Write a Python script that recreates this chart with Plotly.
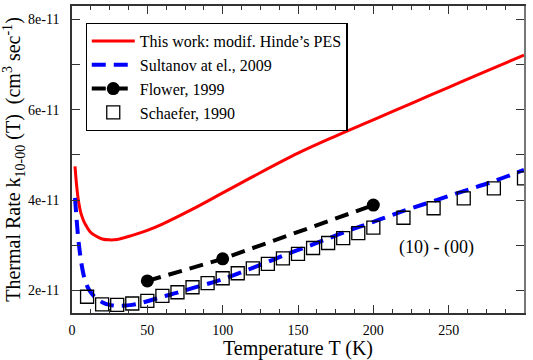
import plotly.graph_objects as go

SCALE = 1e-11

# This work: modif. Hinde's PES (units of 1e-11 cm^3 s^-1)
red_T = [2, 3, 4, 5, 6, 8, 10, 12, 15, 20, 25, 30, 40, 50, 60, 80, 100, 120, 150, 175, 200, 225, 250, 275, 300]
red_k = [4.75, 4.35, 4.05, 3.85, 3.7, 3.52, 3.4, 3.3, 3.22, 3.14, 3.12, 3.13, 3.22, 3.33, 3.47, 3.8, 4.16, 4.52, 5.04, 5.42, 5.78, 6.14, 6.5, 6.86, 7.21]

# Sultanov at el., 2009
blue_T = [2, 3, 4, 5, 6, 8, 10, 12, 15, 20, 25, 30, 40, 50, 60, 70, 80, 100, 120, 140, 160, 180, 200, 220, 240, 260, 280, 300]
blue_k = [4.05, 3.6, 3.2, 2.9, 2.65, 2.3, 2.1, 1.98, 1.86, 1.74, 1.68, 1.66, 1.68, 1.76, 1.86, 1.95, 2.05, 2.25, 2.5, 2.77, 3.02, 3.28, 3.52, 3.76, 3.98, 4.2, 4.42, 4.67]

# Flower, 1999
flower_T = [50, 100, 200]
flower_k = [2.21, 2.7, 3.89]

# Schaefer, 1990
sch_T = [10, 20, 30, 40, 50, 60, 70, 80, 90, 100, 110, 120, 130, 140, 150, 160, 170, 180, 190, 200, 220, 240, 260, 280, 300]
sch_k = [1.86, 1.69, 1.68, 1.71, 1.77, 1.88, 1.96, 2.07, 2.16, 2.27, 2.38, 2.49, 2.59, 2.71, 2.81, 2.94, 3.05, 3.16, 3.27, 3.39, 3.61, 3.82, 4.04, 4.26, 4.48]

y_tickvals = [2, 4, 6, 8]
y_ticktext = ["2e-11", "4e-11", "6e-11", "8e-11"]
x_tickvals = [0, 50, 100, 150, 200, 250, 300]

FONT = "Liberation Serif"
AX = "#333333"
X_RANGE = [0, 300]
Y_RANGE = [1.5e-11, 8.3e-11]

def sc(v):
    return [x * SCALE for x in v]

fig = go.Figure()
fig.add_trace(go.Scatter(x=red_T, y=sc(red_k), mode="lines", name="This work: modif. Hinde\u2019s PES",
                         line=dict(color="#ff0000", width=3, shape="spline")))
fig.add_trace(go.Scatter(x=blue_T, y=sc(blue_k), mode="lines", name="Sultanov at el., 2009",
                         line=dict(color="#0000ff", width=4, dash="14px,8px", shape="spline")))
fig.add_trace(go.Scatter(x=flower_T, y=sc(flower_k), mode="lines+markers", name="Flower, 1999",
                         line=dict(color="black", width=4, dash="14px,8px"),
                         marker=dict(symbol="circle", size=13, color="black")))
fig.add_trace(go.Scatter(x=sch_T, y=sc(sch_k), mode="markers", name="Schaefer, 1990",
                         marker=dict(symbol="square-open", size=13, color="black", line=dict(width=1.3))))
# invisible trace to activate mirror axes
fig.add_trace(go.Scatter(x=[None], y=[None], xaxis="x2", yaxis="y2", showlegend=False, hoverinfo="skip"))

fig.add_annotation(x=242, y=2.96 * SCALE, text="(10) - (00)", showarrow=False,
                   font=dict(family=FONT, size=18, color="black"), xanchor="center", yanchor="middle")

common_tick = dict(ticks="inside", ticklen=8, tickwidth=1, tickcolor=AX, showgrid=False, zeroline=False)

fig.update_layout(
    width=533, height=360,
    margin=dict(l=72, r=9, t=6, b=37),
    paper_bgcolor="white", plot_bgcolor="white",
    font=dict(family=FONT, color="black"),
    showlegend=True,
    legend=dict(x=0.03, y=0.945, xanchor="left", yanchor="top",
                bordercolor="black", borderwidth=1.2, bgcolor="white",
                font=dict(family=FONT, size=16), tracegroupgap=0, itemwidth=43),
    xaxis=dict(range=X_RANGE, tickvals=x_tickvals, showline=True, linecolor=AX, linewidth=1.5,
               tickfont=dict(family=FONT, size=14), ticklabelstandoff=3,
               minor=dict(dtick=12.5, tick0=0, ticks="inside", ticklen=4, tickcolor=AX, showgrid=False),
               title=dict(text="Temperature T (K)", font=dict(family=FONT, size=20), standoff=2),
               **common_tick),
    yaxis=dict(range=Y_RANGE, tickvals=sc(y_tickvals), ticktext=y_ticktext, showline=True,
               linecolor=AX, linewidth=1.5, tickfont=dict(family=FONT, size=14), ticklabelstandoff=8,
               minor=dict(dtick=1e-11, tick0=0, ticks="inside", ticklen=8, tickcolor=AX, showgrid=False),
               title=dict(text="Thermal Rate k<sub>10-00</sub> (T)  (cm<sup>3</sup> sec<sup>-1</sup>)",
                          font=dict(family=FONT, size=20), standoff=2),
               **common_tick),
    xaxis2=dict(range=X_RANGE, overlaying="x", side="top", tickvals=x_tickvals, showticklabels=False,
                showline=True, linecolor=AX, linewidth=1.5,
                minor=dict(dtick=12.5, tick0=0, ticks="inside", ticklen=4, tickcolor=AX, showgrid=False),
                **common_tick),
    yaxis2=dict(range=Y_RANGE, overlaying="y", side="right", tickvals=sc(y_tickvals), showticklabels=False,
                showline=True, linecolor="#777777", linewidth=2,
                minor=dict(dtick=1e-11, tick0=0, ticks="inside", ticklen=8, tickcolor=AX, showgrid=False),
                **common_tick),
)

fig.write_html("out.html")
